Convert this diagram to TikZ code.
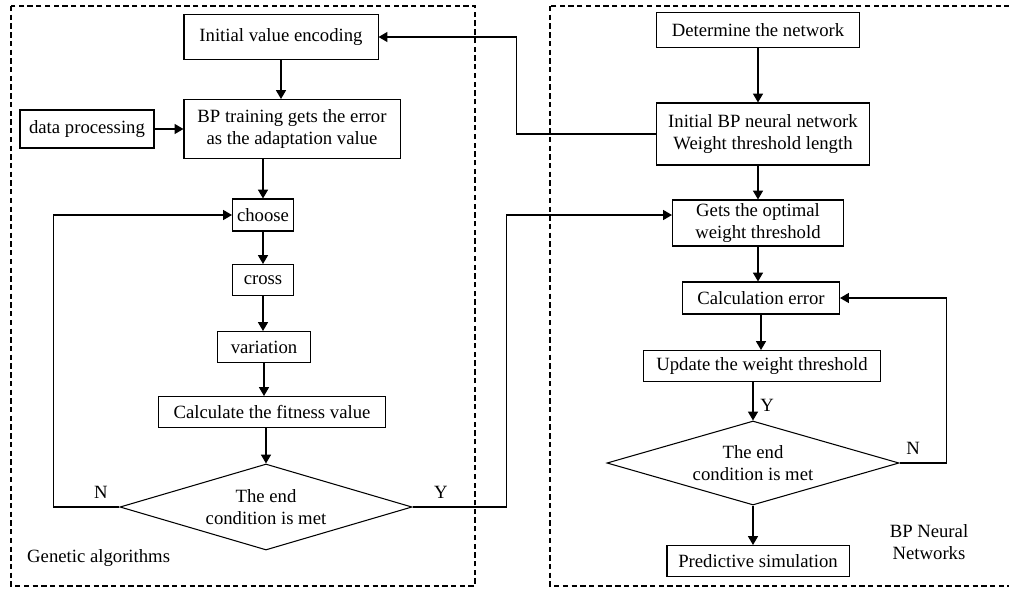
\documentclass[tikz,border=0pt]{standalone}
\usepackage{fontspec}
\setmainfont{Liberation Serif}
\usetikzlibrary{shapes.geometric,arrows.meta}

\begin{document}
\begin{tikzpicture}[x=0.025cm,y=-0.025cm,
	line width=0.75pt,
	box/.style={draw, rectangle, inner sep=0pt, align=center},
	cond/.style={draw, diamond, aspect=3.4, inner sep=0pt, align=center,
		minimum width=7.3cm, minimum height=2.15cm},
	arr/.style={-{Triangle[length=0.22cm,width=0.25cm]}},
	group/.style={draw, dashed, dash pattern=on 3.8pt off 2.4pt},
	font=\fontsize{13.3}{15.6}\selectfont]

\useasboundingbox (0,0) rectangle (1009,588);
\clip (0,0) rectangle (1009,588);

% Groups
\draw [group] (11,6) rectangle (475,586);
\draw [group] (550,6) rectangle (1015,586);
\node [anchor=west] (galabel) at (22,558) {Genetic algorithms};
\node [align=center] (bplabel) at (929,542) {BP Neural\\Networks};

% Genetic algorithm side
\node [box, minimum width=4.85cm, minimum height=1.125cm] (init) at (281,37) {Initial value encoding};
\node [box, minimum width=3.35cm, minimum height=0.95cm] (data) at (87,129) {data processing};
\node [box, minimum width=5.4cm, minimum height=1.475cm] (train) at (292,129) {BP training gets the error\\as the adaptation value};
\node [box, minimum width=1.525cm, minimum height=0.8cm] (choose) at (263,215) {choose};
\node [box, minimum width=1.525cm, minimum height=0.775cm] (cross) at (263,280) {cross};
\node [box, minimum width=2.325cm, minimum height=0.775cm] (vari) at (264,347) {variation};
\node [box, minimum width=5.65cm, minimum height=0.775cm] (fit) at (272,412) {Calculate the fitness value};
\node [cond] (endga) at (266,507) {The end\\condition is met};

% BP network side
\node [box, minimum width=5.075cm, minimum height=0.875cm] (determine) at (758,30) {Determine the network};
\node [box, minimum width=5.325cm, minimum height=1.55cm] (initbp) at (763,134) {Initial BP neural network\\Weight threshold length};
\node [box, minimum width=4.275cm, minimum height=1.15cm] (optimal) at (758,223) {Gets the optimal\\weight threshold};
\node [box, minimum width=3.925cm, minimum height=0.8cm] (calcerr) at (761,298) {Calculation error};
\node [box, minimum width=5.925cm, minimum height=0.775cm] (update) at (762,366) {Update the weight threshold};
\node [cond, minimum height=2.1cm] (endbp) at (753,463) {The end\\condition is met};
\node [box, minimum width=4.55cm, minimum height=0.775cm] (predict) at (758,561) {Predictive simulation};

% Connectors, left
\draw [arr] (init.south) -- (init.south |- train.north);
\draw [arr] (data.east) -- (train.west);
\draw [arr] (choose.north |- train.south) -- (choose.north);
\draw [arr] (choose) -- (cross);
\draw [arr] (cross.south) -- (cross.south |- vari.north);
\draw [arr] (vari.south) -- (vari.south |- fit.north);
\draw [arr] (endga.north |- fit.south) -- (endga.north);
\draw [arr] (endga.west) -- ++(-66,0) |- (choose.west);
\node (ngalabel) at (101,492) {N};

% Connectors, right
\draw [arr] (determine.south) -- (determine.south |- initbp.north);
\draw [arr] (optimal.north |- initbp.south) -- (optimal.north);
\draw [arr] (optimal.south) -- (optimal.south |- calcerr.north);
\draw [arr] (calcerr.south) -- (calcerr.south |- update.north);
\draw [arr] (endbp.north |- update.south) -- (endbp.north);
\node (ybplabel) at (767,405) {Y};
\draw [arr] (endbp.south) -- (endbp.south |- predict.north);
\draw [arr] (endbp.east) -- ++(47,0) |- (calcerr.east);
\node (nbplabel) at (913,448) {N};

% Between the groups
\draw [arr] (initbp.west) -- ++(-139,0) |- (init.east);
\draw [arr] (endga.east) -- ++(94,0) |- (optimal.west |- choose.west);
\node (ygalabel) at (441,492) {Y};

\end{tikzpicture}
\end{document}
